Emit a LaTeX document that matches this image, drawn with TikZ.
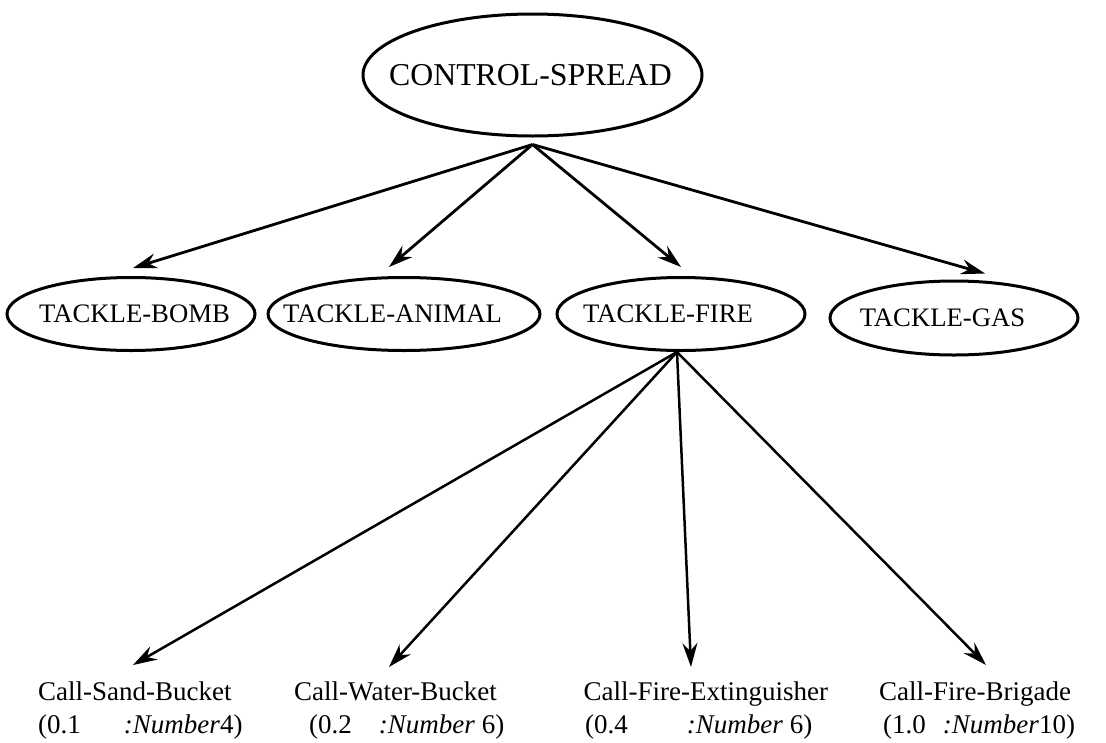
\documentclass[tikz,border=0pt]{standalone}
\usepackage{fontspec}
\setmainfont{Liberation Serif}
\usetikzlibrary{arrows.meta,shapes.geometric,calc}
\begin{document}
\begin{tikzpicture}[x=1pt,y=-1pt,
  oval/.style={draw, ellipse, line width=3pt, inner sep=0pt},
  topfont/.style={font=\fontsize{31.8}{38}\selectfont},
  midfont/.style={font=\fontsize{26.7}{32}\selectfont},
  link/.style={-{Stealth[length=24pt,width=15pt,inset=8pt]}, line width=2.8pt},
  sublink/.style={link, line width=2.5pt},
  leaf/.style={font=\fontsize{27}{32}\selectfont, anchor=base west, inner sep=0pt}]
\fill[white] (0,0) rectangle (1106,742);
\useasboundingbox (0,0) rectangle (1106,742);

% root goal
\node[oval, minimum width=339pt, minimum height=122pt,
      label={[topfont, xshift=-2pt]center:CONTROL-SPREAD}] (cs) at (532.5,75) {};

% sub-goals
\node[oval, minimum width=248pt, minimum height=73pt,
      label={[midfont, xshift=3.5pt]center:TACKLE-BOMB}] (bomb) at (131,314) {};
\node[oval, minimum width=272pt, minimum height=73pt,
      label={[midfont, xshift=-11.5pt]center:TACKLE-ANIMAL}] (animal) at (404,314) {};
\node[oval, minimum width=248pt, minimum height=73pt,
      label={[midfont, xshift=-13pt]center:TACKLE-FIRE}] (fire) at (681,314) {};
\node[oval, minimum width=248pt, minimum height=74pt,
      label={[midfont, xshift=-11.5pt]center:TACKLE-GAS}] (gas) at (954,318) {};

% actions with their weights
\node[leaf] (sand) at (38,700) {Call-Sand-Bucket};
\node[leaf] (sandval) at (38,733) {(0.1\hspace*{43pt}\textit{:Number}4)};
\node[leaf] (water) at (294,700) {Call-Water-Bucket};
\node[leaf] (waterval) at (309,733) {(0.2\hspace*{27pt}\textit{:Number} 6)};
\node[leaf] (ext) at (583.5,700) {Call-Fire-Extinguisher};
\node[leaf] (extval) at (585,733) {(0.4\hspace*{59pt}\textit{:Number} 6)};
\node[leaf] (brig) at (879,700) {Call-Fire-Brigade};
\node[leaf] (brigval) at (883,733) {(1.0\hspace*{17pt}\textit{:Number}10)};

% decomposition links
\draw[link] ($(cs.south)+(0,7)$) -- ($(bomb.north)+(2,-8)$);
\draw[link] ($(cs.south)+(0,7)$) -- ($(animal.north)+(-15,-9)$);
\draw[link] ($(cs.south)+(0,7)$) -- ($(fire.north)+(0,-9)$);
\draw[link] ($(cs.south)+(0,7)$) -- ($(gas.north)+(31,-6)$);

\draw[sublink] ($(fire.south)+(-4,0)$) -- ($(sand.base west)+(95,-35)$);
\draw[sublink] ($(fire.south)+(-4,0)$) -- ($(water.base west)+(95,-33)$);
\draw[sublink] ($(fire.south)+(-4,0)$) -- ($(ext.base west)+(107.5,-33)$);
\draw[sublink] ($(fire.south)+(-4,0)$) -- ($(brig.base west)+(107,-35)$);
\end{tikzpicture}
\end{document}
